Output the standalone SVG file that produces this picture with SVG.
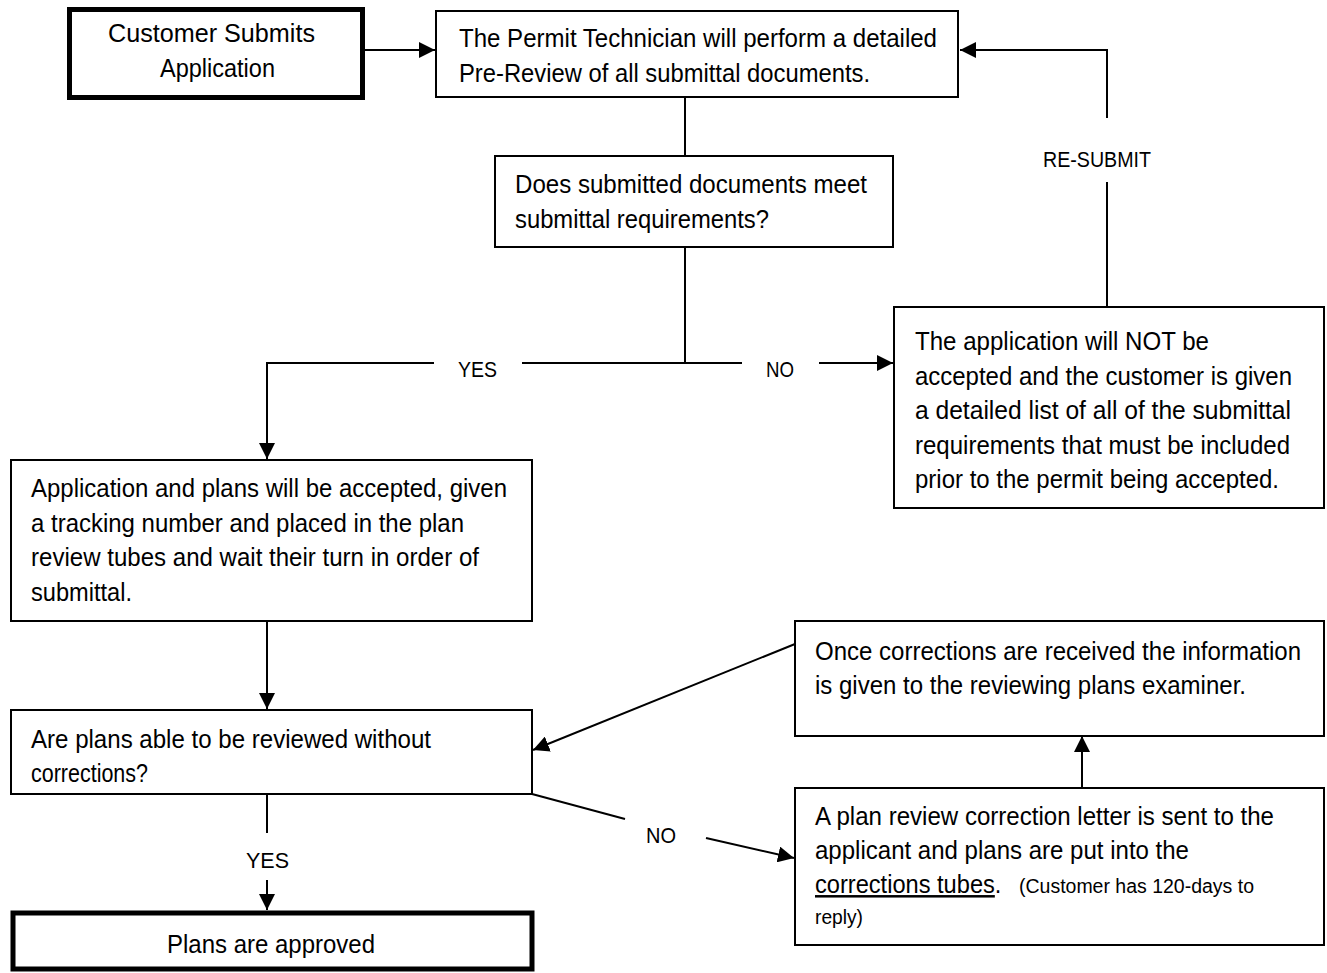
<svg xmlns="http://www.w3.org/2000/svg" width="1327" height="973" viewBox="0 0 1327 973">
<style>
.box{fill:#fff;stroke:#000;stroke-width:2}
.thick{fill:#fff;stroke:#000;stroke-width:5}
.t{font-family:"Liberation Sans",Arial,sans-serif;font-size:25px;fill:#000}
.lbl{font-family:"Liberation Sans",Arial,sans-serif;font-size:22px;fill:#000}
.sm{font-family:"Liberation Sans",Arial,sans-serif;font-size:20px;fill:#000}
.ln{fill:none;stroke:#000;stroke-width:2}
</style>
<defs>
<marker id="arr" markerUnits="userSpaceOnUse" markerWidth="16" markerHeight="16" refX="16" refY="8" orient="auto">
<path d="M0,0 L16,8 L0,16 z" fill="#000"/>
</marker>
</defs>
<rect width="1327" height="973" fill="#fff"/>
<g id="connectors">
<path class="ln" d="M365,50 H435" marker-end="url(#arr)"/>
<path class="ln" d="M685,98 V155"/>
<path class="ln" d="M685,248 V363"/>
<path class="ln" d="M742,363 H522"/>
<path class="ln" d="M434,363 H267 V459" marker-end="url(#arr)"/>
<path class="ln" d="M819,363 H893" marker-end="url(#arr)"/>
<path class="ln" d="M1107,307 V182"/>
<path class="ln" d="M1107,118 V50 H960" marker-end="url(#arr)"/>
<path class="ln" d="M267,621 V709" marker-end="url(#arr)"/>
<path class="ln" d="M267,794 V833"/>
<path class="ln" d="M267,880 V910" marker-end="url(#arr)"/>
<path class="ln" d="M532,794 L625,819"/>
<path class="ln" d="M706,838 L794,858" marker-end="url(#arr)"/>
<path class="ln" d="M795,644 L533,750" marker-end="url(#arr)"/>
<path class="ln" d="M1082,788 V736" marker-end="url(#arr)"/>
<text class="lbl" x="458" y="377" textLength="39" lengthAdjust="spacingAndGlyphs">YES</text>
<text class="lbl" x="766" y="377" textLength="28" lengthAdjust="spacingAndGlyphs">NO</text>
<text class="lbl" x="1043" y="167" textLength="108" lengthAdjust="spacingAndGlyphs">RE-SUBMIT</text>
<text class="lbl" x="246" y="868" textLength="43" lengthAdjust="spacingAndGlyphs">YES</text>
<text class="lbl" x="646" y="843" textLength="30" lengthAdjust="spacingAndGlyphs">NO</text>
</g>
<g id="n1">
<rect class="thick" x="69.5" y="9.5" width="293" height="88"/>
<text class="t" x="108" y="42" textLength="207" lengthAdjust="spacingAndGlyphs">Customer Submits</text>
<text class="t" x="160" y="77" textLength="115" lengthAdjust="spacingAndGlyphs">Application</text>
</g>
<g id="n2">
<rect class="box" x="436" y="11" width="522" height="86"/>
<text class="t" x="459" y="47" textLength="478" lengthAdjust="spacingAndGlyphs">The Permit Technician will perform a detailed</text>
<text class="t" x="459" y="82" textLength="411" lengthAdjust="spacingAndGlyphs">Pre-Review of all submittal documents.</text>
</g>
<g id="n3">
<rect class="box" x="495" y="156" width="398" height="91"/>
<text class="t" x="515" y="193" textLength="352" lengthAdjust="spacingAndGlyphs">Does submitted documents meet</text>
<text class="t" x="515" y="228" textLength="254" lengthAdjust="spacingAndGlyphs">submittal requirements?</text>
</g>
<g id="n4">
<rect class="box" x="11" y="460" width="521" height="161"/>
<text class="t" x="31" y="497" textLength="476" lengthAdjust="spacingAndGlyphs">Application and plans will be accepted, given</text>
<text class="t" x="31" y="531.5" textLength="433" lengthAdjust="spacingAndGlyphs">a tracking number and placed in the plan</text>
<text class="t" x="31" y="566" textLength="448" lengthAdjust="spacingAndGlyphs">review tubes and wait their turn in order of</text>
<text class="t" x="31" y="600.5" textLength="101" lengthAdjust="spacingAndGlyphs">submittal.</text>
</g>
<g id="n5">
<rect class="box" x="11" y="710" width="521" height="84"/>
<text class="t" x="31" y="748" textLength="400" lengthAdjust="spacingAndGlyphs">Are plans able to be reviewed without</text>
<text class="t" x="31" y="782" textLength="117" lengthAdjust="spacingAndGlyphs">corrections?</text>
</g>
<g id="n6">
<rect class="box" x="894" y="307" width="430" height="201"/>
<text class="t" x="915" y="350" textLength="294" lengthAdjust="spacingAndGlyphs">The application will NOT be</text>
<text class="t" x="915" y="384.5" textLength="377" lengthAdjust="spacingAndGlyphs">accepted and the customer is given</text>
<text class="t" x="915" y="419" textLength="376" lengthAdjust="spacingAndGlyphs">a detailed list of all of the submittal</text>
<text class="t" x="915" y="453.5" textLength="375" lengthAdjust="spacingAndGlyphs">requirements that must be included</text>
<text class="t" x="915" y="488" textLength="364" lengthAdjust="spacingAndGlyphs">prior to the permit being accepted.</text>
</g>
<g id="n7">
<rect class="box" x="795" y="621" width="529" height="115"/>
<text class="t" x="815" y="660" textLength="486" lengthAdjust="spacingAndGlyphs">Once corrections are received the information</text>
<text class="t" x="815" y="694" textLength="431" lengthAdjust="spacingAndGlyphs">is given to the reviewing plans examiner.</text>
</g>
<g id="n8">
<rect class="box" x="795" y="788" width="529" height="157"/>
<text class="t" x="815" y="825" textLength="459" lengthAdjust="spacingAndGlyphs">A plan review correction letter is sent to the</text>
<text class="t" x="815" y="859" textLength="374" lengthAdjust="spacingAndGlyphs">applicant and plans are put into the</text>
<text class="t" transform="translate(815,893) scale(0.945,1)"><tspan text-decoration="underline">corrections tubes</tspan>.</text>
<text class="sm" x="1019" y="893" textLength="235" lengthAdjust="spacingAndGlyphs">(Customer has 120-days to</text>
<text class="sm" x="815" y="924" textLength="48" lengthAdjust="spacingAndGlyphs">reply)</text>
</g>
<g id="n9">
<rect class="thick" x="13" y="913" width="519" height="56"/>
<text class="t" x="167" y="953" textLength="208" lengthAdjust="spacingAndGlyphs">Plans are approved</text>
</g>
</svg>
